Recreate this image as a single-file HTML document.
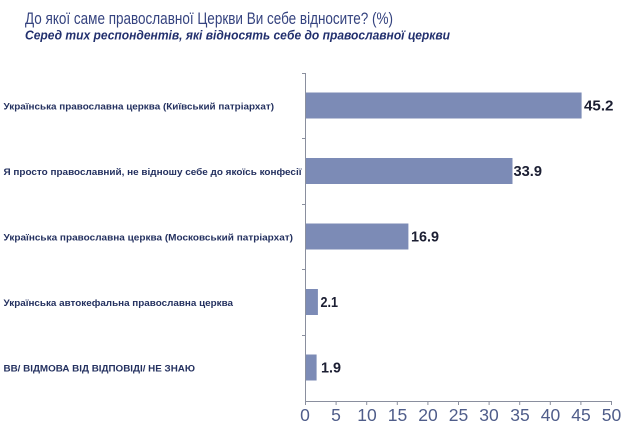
<!DOCTYPE html>
<html><head><meta charset="utf-8"><style>
html,body{margin:0;padding:0;background:#fff;}
svg{display:block;}
text{font-family:"Liberation Sans",Arial,sans-serif;}
</style></head><body>
<svg width="625" height="427" viewBox="0 0 625 427" xmlns="http://www.w3.org/2000/svg">
<rect width="625" height="427" fill="#fff"/>
<text x="25" y="24" font-size="16.5" fill="#35437f" textLength="368" lengthAdjust="spacingAndGlyphs">До якої саме православної Церкви Ви себе відносите? (%)</text>
<text x="25" y="39.5" font-size="13" font-weight="bold" font-style="italic" fill="#22306e" textLength="425" lengthAdjust="spacingAndGlyphs">Серед тих респондентів, які відносять себе до православної церкви</text>

<g fill="#7c8bb6">
<rect x="305" y="92.5" width="276.6" height="26"/>
<rect x="305" y="158" width="207.5" height="26"/>
<rect x="305" y="223.5" width="103.4" height="26"/>
<rect x="305" y="289" width="12.9" height="26"/>
<rect x="305" y="354.5" width="11.6" height="26"/>
</g>

<g stroke="#8a8f9e" stroke-width="1" fill="none">
<line x1="305.5" y1="73" x2="305.5" y2="401"/>
<line x1="305" y1="401.5" x2="612" y2="401.5"/>
<line x1="302" y1="73.5" x2="305" y2="73.5"/>
<line x1="302" y1="138.5" x2="305" y2="138.5"/>
<line x1="302" y1="204.5" x2="305" y2="204.5"/>
<line x1="302" y1="269.5" x2="305" y2="269.5"/>
<line x1="302" y1="335.5" x2="305" y2="335.5"/>
<line x1="305.5" y1="401" x2="305.5" y2="405"/>
<line x1="336.1" y1="401" x2="336.1" y2="405"/>
<line x1="366.7" y1="401" x2="366.7" y2="405"/>
<line x1="397.3" y1="401" x2="397.3" y2="405"/>
<line x1="427.9" y1="401" x2="427.9" y2="405"/>
<line x1="458.5" y1="401" x2="458.5" y2="405"/>
<line x1="489.1" y1="401" x2="489.1" y2="405"/>
<line x1="519.7" y1="401" x2="519.7" y2="405"/>
<line x1="550.3" y1="401" x2="550.3" y2="405"/>
<line x1="580.9" y1="401" x2="580.9" y2="405"/>
<line x1="611.5" y1="401" x2="611.5" y2="405"/>
</g>

<g font-size="17.5" fill="#4f5d8a" text-anchor="middle">
<text x="305" y="421">0</text>
<text x="336" y="421">5</text>
<text x="367" y="421">10</text>
<text x="397.5" y="421">15</text>
<text x="428" y="421">20</text>
<text x="458.5" y="421">25</text>
<text x="489" y="421">30</text>
<text x="520" y="421">35</text>
<text x="550.5" y="421">40</text>
<text x="581" y="421">45</text>
<text x="611.5" y="421">50</text>
</g>

<g font-size="9.3" font-weight="bold" fill="#23305f">
<text x="3.5" y="109.3" textLength="270.5" lengthAdjust="spacingAndGlyphs">Українська православна церква (Київський патріархат)</text>
<text x="3.5" y="174.8" textLength="298" lengthAdjust="spacingAndGlyphs">Я просто православний, не відношу себе до якоїсь конфесії</text>
<text x="3.5" y="240.3" textLength="289.5" lengthAdjust="spacingAndGlyphs">Українська православна церква (Московський патріархат)</text>
<text x="3.5" y="305.8" textLength="229.5" lengthAdjust="spacingAndGlyphs">Українська автокефальна православна церква</text>
<text x="3.5" y="371.3" textLength="191.5" lengthAdjust="spacingAndGlyphs">ВВ/ ВІДМОВА ВІД ВІДПОВІДІ/ НЕ ЗНАЮ</text>
</g>

<g font-size="14.5" font-weight="bold" fill="#1c1f33">
<text x="584" y="110.5" textLength="29.5" lengthAdjust="spacingAndGlyphs">45.2</text>
<text x="513.5" y="176" textLength="28.5" lengthAdjust="spacingAndGlyphs">33.9</text>
<text x="411" y="241.5" textLength="28" lengthAdjust="spacingAndGlyphs">16.9</text>
<text x="320.5" y="307" textLength="17.5" lengthAdjust="spacingAndGlyphs">2.1</text>
<text x="321" y="372.5" textLength="20" lengthAdjust="spacingAndGlyphs">1.9</text>
</g>
</svg>
</body></html>
